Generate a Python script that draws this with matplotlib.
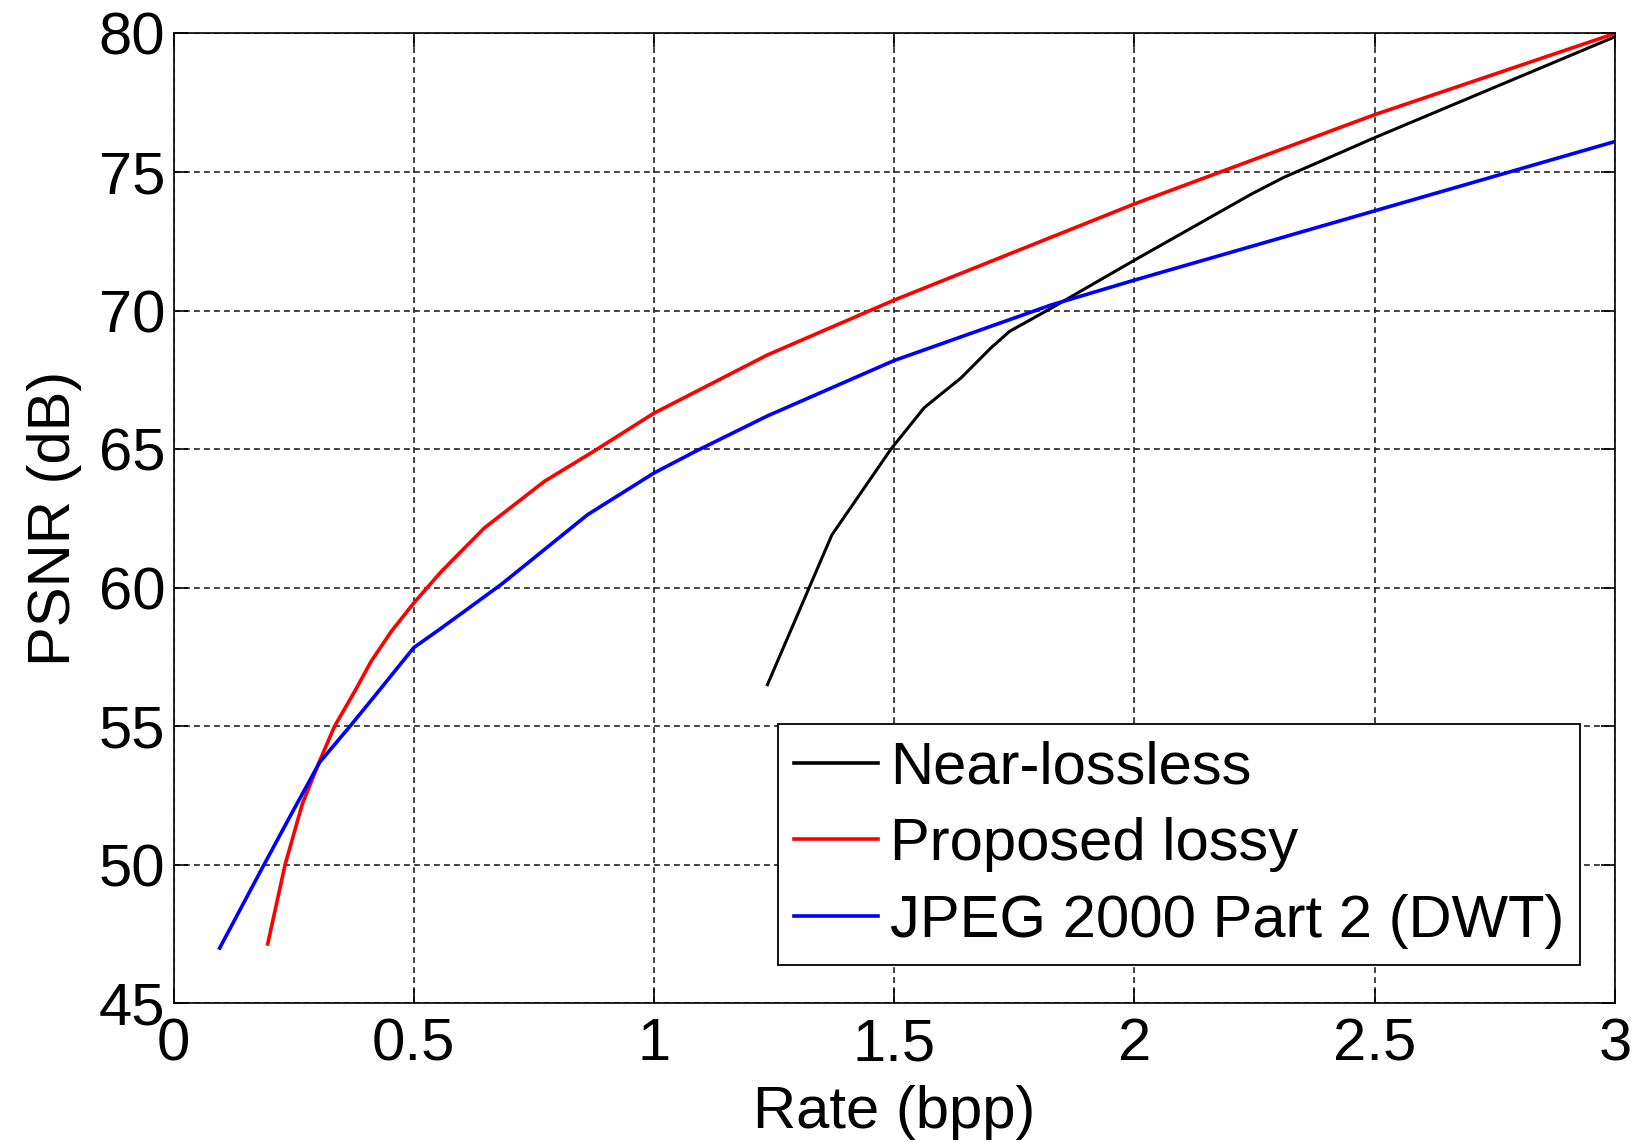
import numpy as np
import matplotlib
matplotlib.use('Agg')
import matplotlib.pyplot as plt

# Rate-distortion curves
near_rate = [1.236, 1.37, 1.493, 1.5625, 1.639, 1.701, 1.74, 1.826, 2.0, 2.243, 2.31, 2.5, 3.0]
near_psnr = [56.5, 61.9, 65.0, 66.5, 67.57, 68.65, 69.25, 70.08, 71.82, 74.2, 74.8, 76.24, 79.88]

lossy_rate = [0.196, 0.232, 0.268, 0.304, 0.335, 0.377, 0.411, 0.453, 0.5, 0.557, 0.647, 0.772,
              0.876, 1.0, 1.236, 1.5, 2.0, 2.5, 3.0]
lossy_psnr = [47.15, 50.0, 52.2, 53.75, 55.0, 56.26, 57.34, 58.42, 59.45, 60.58, 62.16, 63.84,
              64.94, 66.3, 68.4, 70.38, 73.85, 77.07, 80.0]

jpeg_rate = [0.096, 0.188, 0.244, 0.304, 0.37, 0.432, 0.5, 0.557, 0.682, 0.862, 1.0, 1.084,
             1.236, 1.5, 1.826, 2.0, 2.5, 3.0]
jpeg_psnr = [47.0, 50.0, 51.8, 53.7, 55.06, 56.38, 57.84, 58.54, 60.12, 62.64, 64.14, 64.9,
             66.2, 68.2, 70.2, 71.1, 73.6, 76.1]

labels = ['Near-lossless', 'Proposed lossy', 'JPEG 2000 Part 2 (DWT)']
xticks = [0, 0.5, 1, 1.5, 2, 2.5, 3]
xticklabels = ['0', '0.5', '1', '1.5', '2', '2.5', '3']
yticks = [45, 50, 55, 60, 65, 70, 75, 80]

plt.rcParams['font.family'] = ['Liberation Sans', 'DejaVu Sans']
FS = 43

fig = plt.figure(figsize=(16.39, 11.42), dpi=100)
ax = fig.add_axes([0.1059, 0.1213, 0.8794, 0.8494])

ax.plot(near_rate, near_psnr, color='black', lw=2.2, label=labels[0])
ax.plot(lossy_rate, lossy_psnr, color='red', lw=2.6, label=labels[1])
ax.plot(jpeg_rate, jpeg_psnr, color='blue', lw=2.6, label=labels[2])

ax.set_xlim(0, 3)
ax.set_ylim(45, 80)
ax.set_xticks(xticks)
ax.set_xticklabels(xticklabels)
ax.set_yticks(yticks)

ax.grid(True, color='#222222', linestyle=(0, (3.5, 2.5)), linewidth=1.2)
ax.tick_params(direction='in', length=10, width=1.2, labelsize=FS,
               top=True, right=True)
ax.tick_params(axis='x', pad=10)
ax.tick_params(axis='y', pad=6)
for s in ax.spines.values():
    s.set_linewidth(1.2)

ax.set_xlabel('Rate (bpp)', fontsize=FS, labelpad=9)
ax.set_ylabel('PSNR (dB)', fontsize=FS, labelpad=12)

leg = ax.legend(loc='lower right', bbox_to_anchor=(0.976, 0.040), borderaxespad=0,
                fontsize=FS, fancybox=False, edgecolor='black', framealpha=1,
                handlelength=1.4, handletextpad=0.2, labelspacing=0.36,
                borderpad=0.27)
leg.get_frame().set_linewidth(1.3)
for line in leg.get_lines():
    line.set_linewidth(2.6)

fig.savefig('out.png', dpi=100)
